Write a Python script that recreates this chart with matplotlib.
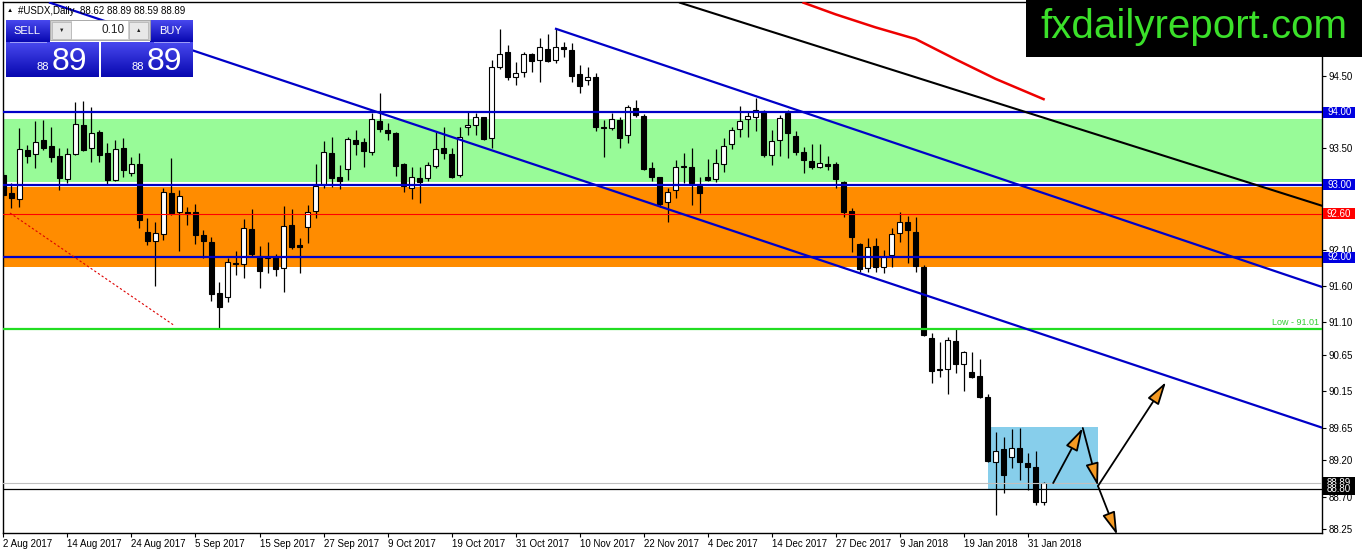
import matplotlib
matplotlib.use("Agg")
import matplotlib.pyplot as plt
from matplotlib.patches import Rectangle, FancyArrowPatch
from matplotlib.colors import LinearSegmentedColormap
import numpy as np

plt.rcParams['font.family'] = ['Liberation Sans', 'DejaVu Sans']

# daily candles #USDX, 2 Aug 2017 .. 2 Feb 2018
opens = [93.13, 92.89, 92.80, 93.48, 93.42, 93.62, 93.53, 93.40, 93.08, 93.42,
         93.82, 93.51, 93.73, 93.44, 93.07, 93.50, 93.16, 93.29, 92.35, 92.22,
         92.32, 92.89, 92.62, 92.63, 92.62, 92.31, 92.21, 91.51, 91.45, 91.92,
         91.91, 92.39, 92.02, 91.99, 92.00, 91.85, 92.45, 92.17, 92.42, 92.64,
         93.00, 93.44, 93.11, 93.22, 93.62, 93.59, 93.45, 93.88, 93.76, 93.71,
         93.29, 92.95, 93.09, 93.09, 93.26, 93.51, 93.43, 93.13, 93.79, 93.82,
         93.93, 93.64, 94.62, 94.83, 94.49, 94.56, 94.80, 94.72, 94.87, 94.72,
         94.90, 94.86, 94.53, 94.44, 94.49, 93.79, 93.78, 93.89, 93.68, 94.06,
         93.95, 93.23, 93.11, 92.76, 92.93, 93.24, 93.25, 92.98, 93.11, 93.08,
         93.29, 93.56, 93.77, 93.91, 93.93, 94.02, 93.41, 93.62, 93.99, 93.67,
         93.45, 93.33, 93.24, 93.29, 93.29, 93.04, 92.64, 92.18, 91.85, 92.16,
         91.87, 92.03, 92.33, 92.49, 92.35, 91.87, 90.89, 90.46, 90.46, 90.85,
         90.53, 90.42, 90.36, 90.07, 89.18, 89.36, 89.25, 89.37, 89.16, 89.11,
         88.62]
highs = [93.18, 93.03, 93.78, 93.55, 93.88, 93.89, 93.80, 93.51, 93.51, 94.14,
         94.16, 94.07, 93.75, 93.58, 93.62, 93.64, 93.38, 93.44, 92.54, 92.49,
         92.96, 93.37, 92.93, 92.69, 92.73, 92.38, 92.28, 91.66, 91.99, 92.09,
         92.53, 92.67, 92.15, 92.21, 92.04, 92.71, 92.67, 92.27, 92.72, 93.29,
         93.60, 93.66, 93.27, 93.66, 93.76, 93.64, 93.99, 94.27, 93.85, 93.73,
         93.30, 93.25, 93.25, 93.31, 93.73, 93.80, 93.51, 93.80, 94.00, 93.99,
         93.94, 94.72, 95.15, 94.93, 94.69, 94.83, 94.82, 95.02, 95.08, 95.15,
         94.97, 94.96, 94.65, 94.62, 94.54, 93.89, 93.99, 93.93, 94.10, 94.17,
         93.98, 93.31, 93.11, 92.96, 93.34, 93.44, 93.51, 93.11, 93.36, 93.49,
         93.64, 93.80, 94.09, 94.00, 94.20, 94.03, 93.75, 93.96, 94.03, 93.74,
         93.52, 93.56, 93.56, 93.40, 93.32, 93.05, 92.68, 92.20, 92.27, 92.27,
         92.10, 92.40, 92.62, 92.57, 92.56, 91.89, 90.96, 90.83, 90.90, 91.01,
         90.71, 90.69, 90.60, 90.11, 89.59, 89.52, 89.63, 89.64, 89.30, 89.33,
         88.90]
lows = [92.56, 92.68, 92.69, 93.30, 93.23, 93.48, 93.31, 92.93, 93.02, 93.41,
        93.47, 93.31, 93.31, 93.01, 93.05, 93.11, 93.12, 92.40, 92.17, 91.60,
        92.24, 92.58, 92.09, 92.44, 92.18, 91.99, 91.40, 91.01, 91.38, 91.76,
        91.71, 92.02, 91.58, 91.78, 91.74, 91.52, 92.11, 91.78, 92.20, 92.54,
        92.96, 92.97, 92.94, 93.07, 93.41, 93.24, 93.41, 93.73, 93.62, 93.12,
        92.90, 92.80, 92.75, 93.05, 93.23, 93.36, 93.09, 93.11, 93.69, 93.69,
        93.62, 93.51, 94.60, 94.45, 94.38, 94.49, 94.55, 94.42, 94.69, 94.68,
        94.76, 94.42, 94.27, 94.38, 93.74, 93.38, 93.76, 93.51, 93.58, 93.93,
        93.20, 93.05, 92.69, 92.49, 92.82, 93.02, 92.72, 92.61, 93.05, 93.04,
        93.18, 93.49, 93.66, 93.66, 93.74, 93.38, 93.27, 93.40, 93.37, 93.41,
        93.16, 93.22, 93.23, 93.20, 92.95, 92.55, 92.07, 91.80, 91.80, 91.80,
        91.78, 91.87, 92.21, 91.92, 91.80, 90.91, 90.27, 90.35, 90.11, 90.40,
        90.15, 90.33, 90.06, 89.18, 88.44, 88.75, 89.09, 88.93, 88.79, 88.58,
        88.59]
closes = [92.86, 92.82, 93.49, 93.40, 93.59, 93.51, 93.38, 93.09, 93.42, 93.84,
          93.48, 93.71, 93.41, 93.07, 93.49, 93.20, 93.29, 92.51, 92.22, 92.33,
          92.90, 92.61, 92.84, 92.60, 92.31, 92.22, 91.49, 91.31, 91.93, 91.90,
          92.40, 92.04, 91.81, 92.01, 91.84, 92.43, 92.14, 92.14, 92.62, 92.98,
          93.45, 93.09, 93.05, 93.63, 93.56, 93.47, 93.91, 93.77, 93.71, 93.26,
          92.98, 93.11, 93.04, 93.27, 93.49, 93.44, 93.11, 93.66, 93.83, 93.93,
          93.63, 94.62, 94.80, 94.49, 94.54, 94.80, 94.71, 94.90, 94.71, 94.90,
          94.87, 94.50, 94.36, 94.49, 93.80, 93.78, 93.91, 93.65, 94.07, 93.96,
          93.22, 93.11, 92.73, 92.90, 93.24, 93.26, 93.02, 92.89, 93.07, 93.30,
          93.53, 93.75, 93.88, 93.95, 94.03, 93.41, 93.60, 93.92, 93.71, 93.45,
          93.34, 93.24, 93.30, 93.26, 93.08, 92.62, 92.28, 91.84, 92.14, 91.87,
          92.00, 92.32, 92.49, 92.38, 91.88, 90.93, 90.43, 90.45, 90.86, 90.53,
          90.69, 90.35, 90.07, 89.19, 89.33, 88.99, 89.37, 89.18, 89.11, 88.62,
          88.89]

date_labels = ['2 Aug 2017', '14 Aug 2017', '24 Aug 2017', '5 Sep 2017', '15 Sep 2017',
               '27 Sep 2017', '9 Oct 2017', '19 Oct 2017', '31 Oct 2017', '10 Nov 2017',
               '22 Nov 2017', '4 Dec 2017', '14 Dec 2017', '27 Dec 2017', '9 Jan 2018',
               '19 Jan 2018', '31 Jan 2018']
date_step = 8

ytick_vals = [94.50, 93.50, 92.10, 91.60, 91.10, 90.65, 90.15, 89.65, 89.20, 88.70, 88.25]

blue_levels = [94.00, 93.00, 92.00]
red_level = 92.60
low_level = 91.01
green_zone = (93.04, 93.91)
orange_zone = (91.87, 92.97)
bid_price = 88.89
hline_price = 88.80

# trend lines as (bar, price) end points
chan_upper = [(69.06, 95.15), (164.8, 91.59)]
chan_lower = [(5.81, 95.51), (164.8, 89.65)]
black_trend = [(84.56, 95.51), (164.8, 92.71)]
red_dashed = [(0.81, 92.61), (21.2, 91.07)]

# moving average (red)
ma_bars = [100, 104, 109, 114, 119, 124, 130]
ma_vals = [95.51, 95.35, 95.17, 95.01, 94.73, 94.46, 94.18]

# projection box and arrows
box_bars = (123.1, 136.8)
box_prices = (88.81, 89.655)
arrows = [(131.2, 88.886, 134.9, 89.645),
          (134.9, 89.645, 136.8, 88.845),
          (136.8, 88.845, 145.3, 90.28),
          (136.8, 88.845, 139.2, 88.17)]

W, H = 1362, 554
fig = plt.figure(figsize=(W / 100, H / 100), dpi=100)
fig.patch.set_facecolor('white')
ax = fig.add_axes([3 / W, (H - 533) / H, (1322 - 3) / W, (533 - 2) / H])
ax.set_xlim(-0.06, 164.8)
ax.set_ylim(88.197, 95.52)

# zones
ax.axhspan(*green_zone, color='#98FB98', lw=0, zorder=0.5)
ax.axhspan(*orange_zone, color='#FF8C00', lw=0, zorder=0.5)
ax.add_patch(Rectangle((box_bars[0], box_prices[0]), box_bars[1] - box_bars[0],
                       box_prices[1] - box_prices[0], color='#87CEEB', lw=0, zorder=0.6))

# candles
x = np.arange(len(opens))
o = np.array(opens); c = np.array(closes)
ax.vlines(x, lows, highs, color='black', lw=0.9, zorder=2)
up = c >= o
ax.bar(x, np.maximum(np.abs(c - o), 0.014), bottom=np.minimum(o, c), width=0.62,
       color=np.where(up, 'white', 'black'), edgecolor='black', linewidth=0.8, zorder=3)

# levels
for v in blue_levels:
    ax.axhline(v, color='#0000C8', lw=1.6, zorder=4)
ax.axhline(red_level, color='#FF0000', lw=0.8, zorder=4)
ax.axhline(low_level, color='#22DD22', lw=1.6, zorder=4)
ax.text(0.998, low_level + 0.03, 'Low - 91.01', transform=ax.get_yaxis_transform(),
        ha='right', va='bottom', fontsize=6.5, color='#33CC33', zorder=5)
ax.axhline(bid_price, color='#C0C0C0', lw=0.8, zorder=4)
ax.axhline(hline_price, color='black', lw=0.9, zorder=4)

# trend lines
for pts in (chan_upper, chan_lower):
    ax.plot([p[0] for p in pts], [p[1] for p in pts], color='#0000C8', lw=1.6, zorder=4)
ax.plot([p[0] for p in black_trend], [p[1] for p in black_trend], color='black', lw=1.5, zorder=4)
ax.plot([p[0] for p in red_dashed], [p[1] for p in red_dashed], color='#DD0000', lw=0.8,
        ls=(0, (2, 2)), zorder=4)
ax.plot(ma_bars, ma_vals, color='#EE0000', lw=1.8, zorder=4)

for x0, y0, x1, y1 in arrows:
    ax.add_patch(FancyArrowPatch((x0, y0), (x1, y1), arrowstyle='-|>,head_length=1.4,head_width=0.4',
                                 mutation_scale=10, facecolor='#F59A23', edgecolor='black',
                                 lw=1.3, zorder=5, shrinkA=0, shrinkB=0))

# axes look
for s in ax.spines.values():
    s.set_color('black'); s.set_linewidth(1)
ax.yaxis.tick_right()
ax.set_yticks(ytick_vals)
ax.set_yticklabels([f'{v:.2f}' for v in ytick_vals])
ax.tick_params(axis='y', direction='out', length=3, width=0.8, pad=1.5, labelsize=7, colors='black')
ax.set_xticks(np.arange(len(date_labels)) * date_step)
ax.set_xticklabels(date_labels)
ax.tick_params(axis='x', direction='out', length=3, width=0.8, pad=1.5, labelsize=7)
for t in ax.get_xticklabels():
    t.set_ha('left')

# price boxes on the right axis
ytr = ax.get_yaxis_transform()
def price_box(v, bg, z=6):
    ax.add_patch(Rectangle((1.0008, v - 0.076), 0.0243, 0.152, transform=ytr,
                           facecolor=bg, edgecolor='none', clip_on=False, zorder=z))
    ax.text(1.0008 + 0.0122, v, f'{v:.2f}', transform=ytr, ha='center', va='center',
            fontsize=7, color='white', clip_on=False, zorder=z + 0.5)

for v in blue_levels:
    price_box(v, '#0000E0')
price_box(red_level, '#FF0000')
price_box(bid_price, 'black', z=6)
price_box(hline_price, 'black', z=8)

# overlay in pixel units: title, trade panel, logo
ov = fig.add_axes([0, 0, 1, 1], zorder=10)
ov.patch.set_alpha(0)
ov.axis('off')

ov.text(7, 11, '\u25B2', fontsize=4.5, color='black', va='center', ha='left')
ov.text(18, 11, '#USDX,Daily  88.62 88.89 88.59 88.89', fontsize=7, color='black',
        va='center', ha='left')

grad = np.linspace(0, 1, 60).reshape(-1, 1)
cm = LinearSegmentedColormap.from_list('btn', ['#4848EE', '#0808B0'])
def grad_box(x0, y0, x1, y1):
    ov.imshow(grad, extent=(x0, x1, y1, y0), cmap=cm, aspect='auto', zorder=1)

grad_box(6, 20, 50, 42)
grad_box(150, 20, 193, 42)
grad_box(6, 42, 99, 77)
grad_box(101, 42, 193, 77)
ov.plot([10, 46], [41.5, 41.5], color='#A0A0F8', lw=0.7, zorder=2)
ov.plot([154, 189], [41.5, 41.5], color='#A0A0F8', lw=0.7, zorder=2)
ov.add_patch(Rectangle((50, 20), 100, 20, facecolor='#D0D0D0', edgecolor='#A0A0A0', lw=0.6, zorder=2))
ov.add_patch(Rectangle((72, 21), 56, 18, facecolor='white', edgecolor='none', zorder=3))
ov.add_patch(Rectangle((52, 21.5), 19, 17, facecolor='#E8E8E8', edgecolor='#B0B0B0', lw=0.5, zorder=3))
ov.add_patch(Rectangle((129, 21.5), 19, 17, facecolor='#E8E8E8', edgecolor='#B0B0B0', lw=0.5, zorder=3))
ov.text(61.5, 30, '\u25BC', fontsize=4, ha='center', va='center', color='#222222', zorder=4)
ov.text(138.5, 30, '\u25B2', fontsize=4, ha='center', va='center', color='#222222', zorder=4)
ov.text(125, 30, '0.10', fontsize=8.5, ha='right', va='center', color='#222222', zorder=4)
ov.text(27, 31, 'SELL', fontsize=8, ha='center', va='center', color='white', zorder=4)
ov.text(171, 31, 'BUY', fontsize=8, ha='center', va='center', color='white', zorder=4)
for xs in (49, 144):
    ov.text(xs, 70, '88', fontsize=8, ha='right', va='baseline', color='white', zorder=4)
    ov.text(xs + 3, 70, '89', fontsize=23, ha='left', va='baseline', color='white', zorder=4)

ov.add_patch(Rectangle((1026, 0), W - 1026, 57, facecolor='black', edgecolor='none', zorder=2))
ov.text(1040, 38.5, 'fxdailyreport.com', fontsize=29, ha='left', va='baseline',
        color='#3BE02A', zorder=3)

ov.set_xlim(0, W)
ov.set_ylim(H, 0)

fig.savefig('out.png', dpi=100)
